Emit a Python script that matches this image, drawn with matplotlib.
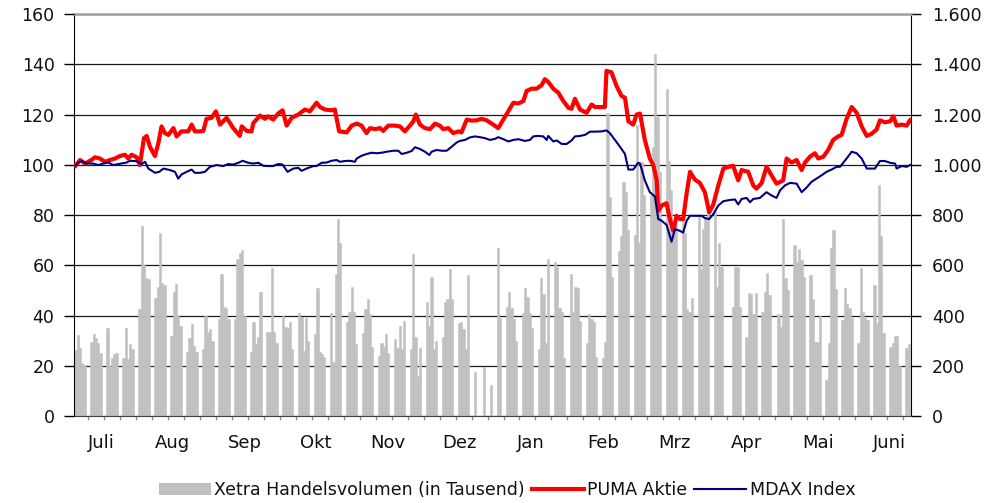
import numpy as np
import pandas as pd
import matplotlib
matplotlib.use("Agg")
import matplotlib.pyplot as plt
from matplotlib.patches import Patch
from matplotlib.lines import Line2D

# Handelstage Juli 2019 - Juni 2020 (Xetra)
start = pd.Timestamp("2019-07-01")
holidays = ["2019-12-24", "2019-12-25", "2019-12-26", "2019-12-31",
            "2020-01-01", "2020-04-10", "2020-04-13", "2020-05-01"]
months = ["Juli", "Aug", "Sep", "Okt", "Nov", "Dez", "Jan", "Feb", "Mrz", "Apr", "Mai", "Juni"]

# Xetra Handelsvolumen (in Tausend), eine Zeile pro Woche
volume = [
    262, 322, 270, 209, 203,
    295, 325, 310, 290, 250,
    350, 200, 230, 245, 250,
    230, 350, 225, 285, 265,
    425, 755, 600, 550, 545,
    470, 515, 730, 530, 520,
    320, 495, 525, 400, 360,
    255, 310, 365, 280, 255,
    265, 400, 335, 345, 300,
    385, 565, 435, 430, 385,
    385, 625, 650, 660, 400,
    255, 375, 285, 315, 495,
    335, 335, 590, 335, 290,
    400, 355, 350, 375, 265,
    410, 395, 260, 390, 300,
    325, 510, 255, 245, 235,
    410, 215, 565, 785, 690,
    375, 415, 515, 415, 285,
    330, 425, 465, 405, 275,
    240, 290, 275, 325, 250,
    305, 270, 360, 265, 380,
    265, 645, 315, 160, 270,
    455, 360, 555, 265, 300,
    315, 455, 465, 585, 465,
    370, 375, 345, 265, 560,
    175, 195,
    125, 670, 390,
    435, 495, 430, 385, 300,
    410, 510, 475, 410, 350,
    265, 550, 485, 290, 625,
    615, 595, 430, 415, 230,
    565, 415, 515, 510, 380,
    290, 405, 385, 375, 235,
    230, 295, 1205, 870, 555,
    655, 715, 930, 890, 740,
    720, 1160, 690, 1010, 880,
    880, 1070, 1440, 1190, 970,
    1300, 1015, 900, 770, 760,
    825, 730, 425, 415, 470,
    795, 585, 745, 790, 820,
    815, 515, 690, 595,
    435, 595, 595, 435,
    315, 490, 485, 405, 490,
    415, 495, 570, 480,
    405, 355, 785, 550, 500,
    680, 613, 666, 620, 555,
    560, 465, 295, 295, 400,
    145, 290, 668, 742, 505,
    382, 511, 445, 428, 390,
    292, 588, 412, 390, 384,
    522, 372, 920, 715, 330,
    276, 290, 320, 320, 200,
    272, 286,
]

# PUMA Aktie (indexiert), (Kalendertag seit 1.7.2019, Wert)
puma_pts = [
    (0, 99.6), (2.0, 101.9), (4.2, 100.5), (7.1, 102.0), (8.5, 103.0), (10.7, 102.5),
    (12.9, 101.2), (15.1, 101.9), (17.3, 102.5), (19.5, 103.5), (21.7, 104.0), (23.1, 102.5),
    (24.6, 104.0), (26.8, 103.0), (28.2, 99.9), (30.0, 110.6), (31.2, 111.5), (32.6, 107.2),
    (34.8, 103.5), (36.3, 108.6), (37.7, 115.3), (39.2, 112.6), (40.7, 111.9), (42.9, 114.6),
    (44.3, 111.3), (46.4, 113.3), (49.4, 113.3), (50.9, 116.0), (52.3, 113.3), (54.5, 113.3),
    (56.0, 113.5), (57.4, 118.3), (59.6, 118.7), (61.5, 121.3), (63.3, 116.0), (66.2, 118.7),
    (69.1, 114.6), (72.0, 111.5), (72.8, 115.3), (75.0, 113.5), (77.1, 113.3), (77.9, 116.6),
    (80.8, 119.6), (83.0, 118.3), (84.4, 119.3), (86.6, 118.0), (88.8, 120.4), (90.7, 121.7),
    (92.5, 115.6), (94.7, 118.7), (97.6, 120.0), (100.5, 122.0), (102.7, 121.3), (105.6, 124.7),
    (107.1, 123.0), (109.3, 122.0), (112.2, 121.7), (113.6, 122.0), (115.5, 113.3),
    (118.8, 112.9), (121.0, 115.6), (123.2, 116.4), (125.3, 115.6), (127.5, 112.6),
    (129.0, 114.6), (131.2, 114.2), (133.4, 114.6), (134.8, 113.5), (137.0, 115.6),
    (139.9, 115.6), (142.1, 115.3), (144.3, 113.3), (146.5, 115.6), (148.0, 117.3),
    (149.1, 120.0), (150.9, 116.0), (153.1, 114.6), (155.3, 114.2), (157.5, 116.4),
    (159.6, 115.6), (161.1, 114.2), (163.3, 114.6), (165.5, 112.6), (167.7, 113.3),
    (169.1, 112.9), (171.4, 118.0), (173.5, 117.6), (175.7, 117.7), (177.9, 118.3),
    (180.1, 117.7), (183.0, 116.0), (185.2, 114.6), (187.4, 118.0), (189.6, 121.3),
    (191.8, 124.7), (194.0, 124.4), (196.2, 125.4), (197.6, 129.4), (199.8, 130.3),
    (202.0, 130.3), (204.2, 131.7), (205.6, 134.1), (207.1, 133.0), (209.3, 130.3),
    (211.5, 128.7), (213.7, 125.4), (215.9, 122.7), (217.3, 122.3), (218.8, 126.3),
    (221.0, 122.0), (223.9, 120.7), (226.1, 124.0), (227.5, 123.0), (229.7, 123.0),
    (231.9, 123.0), (232.6, 137.4), (234.8, 136.8), (237.0, 131.4), (239.2, 127.4),
    (240.7, 126.7), (242.2, 117.3), (244.3, 116.0), (245.8, 120.0), (247.3, 120.4),
    (249.4, 109.9), (251.6, 102.5), (253.1, 99.9), (254.6, 93.8), (255.3, 81.7),
    (256.8, 83.8), (258.9, 84.7), (260.4, 78.4), (261.9, 73.7), (263.3, 79.7),
    (264.8, 78.4), (266.2, 78.4), (267.7, 88.5), (269.2, 97.2), (271.3, 94.1),
    (273.5, 92.8), (275.7, 89.1), (277.6, 81.1), (279.4, 84.2), (281.6, 91.8),
    (283.8, 98.5), (286.0, 99.2), (288.1, 99.6), (290.3, 93.8), (291.8, 97.9),
    (294.7, 97.2), (296.9, 91.8), (298.3, 90.5), (300.6, 92.8), (302.7, 99.2),
    (304.9, 95.8), (307.1, 92.5), (310.0, 93.8), (311.5, 102.5), (313.7, 100.9),
    (315.9, 101.9), (318.1, 97.9), (319.5, 100.8), (321.7, 103.2), (323.9, 104.6),
    (325.4, 102.5), (327.6, 103.2), (329.7, 105.9), (331.9, 109.9), (334.1, 111.3),
    (335.6, 111.9), (337.8, 118.3), (340.0, 123.0), (342.2, 120.7), (344.4, 115.3),
    (346.6, 111.5), (348.7, 112.3), (350.9, 114.0), (352.4, 117.7), (354.6, 116.9),
    (356.8, 117.3), (358.3, 119.3), (359.7, 115.6), (361.9, 116.0), (364.1, 115.6),
    (365.6, 117.7),
]

# MDAX Index (indexiert)
mdax_pts = [
    (0, 99.6), (1.2, 100.9), (2.7, 101.5), (4.9, 100.5), (7.8, 100.5), (10.0, 99.9),
    (12.2, 100.5), (14.4, 100.9), (16.6, 99.9), (18.8, 100.3), (22.4, 100.9), (23.9, 101.6),
    (26.1, 101.5), (27.5, 101.2), (29.0, 100.3), (30.5, 101.2), (31.9, 98.5), (34.9, 96.8),
    (36.7, 97.2), (38.5, 98.5), (41.4, 97.9), (43.6, 97.2), (45.0, 94.5), (46.5, 96.2),
    (48.7, 97.2), (50.9, 98.1), (52.3, 96.8), (54.5, 96.8), (56.7, 97.2), (58.9, 99.2),
    (61.8, 99.9), (64.7, 99.5), (66.9, 100.3), (69.1, 100.1), (71.4, 100.8), (73.2, 101.6),
    (75.7, 100.8), (77.9, 100.5), (80.1, 100.8), (82.3, 99.6), (84.5, 99.5), (86.6, 99.5),
    (88.8, 100.3), (90.7, 100.1), (92.9, 97.2), (95.4, 98.5), (97.6, 98.8), (99.0, 97.6),
    (101.2, 98.5), (104.2, 99.5), (105.6, 99.5), (107.8, 100.8), (110.0, 100.9), (112.2, 101.6),
    (114.4, 101.9), (115.9, 101.2), (118.0, 101.5), (120.2, 101.6), (122.4, 101.2),
    (123.2, 102.5), (125.3, 103.6), (127.5, 104.3), (129.7, 104.8), (131.9, 104.6),
    (134.1, 104.8), (136.3, 105.2), (139.2, 105.6), (141.4, 105.6), (142.9, 104.3),
    (145.1, 104.8), (147.3, 105.5), (148.7, 107.0), (150.9, 106.3), (153.1, 105.2),
    (155.0, 103.9), (156.0, 105.2), (158.2, 105.9), (160.4, 105.6), (162.6, 105.6),
    (164.8, 107.2), (167.0, 108.9), (168.4, 109.5), (170.6, 109.9), (172.8, 110.9),
    (175.0, 111.3), (177.2, 111.0), (179.4, 110.6), (181.5, 109.9), (183.7, 110.3),
    (185.2, 111.0), (187.4, 110.2), (189.6, 109.3), (191.8, 109.9), (194.0, 110.2),
    (196.9, 109.5), (199.1, 109.9), (200.5, 111.3), (202.7, 111.5), (204.9, 111.3),
    (206.4, 109.9), (207.1, 111.5), (209.3, 109.3), (210.8, 109.7), (213.0, 108.3),
    (215.2, 108.3), (217.3, 109.7), (218.8, 111.3), (221.0, 111.5), (223.2, 111.9),
    (225.4, 113.2), (227.5, 113.2), (230.5, 113.3), (232.6, 113.7), (234.1, 112.6),
    (236.3, 109.9), (238.5, 107.2), (240.7, 104.3), (242.2, 98.1), (244.3, 98.1),
    (246.5, 100.8), (247.3, 100.5), (249.4, 93.8), (251.6, 89.1), (253.8, 87.4),
    (255.3, 78.4), (256.8, 77.7), (258.9, 76.1), (261.1, 69.4), (262.6, 74.4),
    (264.8, 73.7), (266.2, 73.0), (267.7, 77.7), (269.2, 79.7), (271.3, 79.7),
    (274.3, 79.7), (275.7, 78.8), (277.6, 78.4), (279.4, 80.4), (281.6, 83.8),
    (283.8, 85.5), (286.7, 86.0), (288.9, 86.2), (290.3, 84.2), (291.8, 86.4),
    (294.0, 86.8), (295.5, 85.1), (296.9, 86.4), (299.8, 86.8), (302.7, 89.1),
    (304.9, 87.8), (307.1, 86.8), (308.6, 89.8), (310.8, 91.8), (313.0, 92.8),
    (315.9, 92.5), (318.1, 89.1), (320.2, 90.9), (322.4, 93.2), (324.6, 94.5),
    (326.8, 95.8), (329.0, 97.2), (331.2, 98.1), (333.4, 99.2), (334.9, 99.2),
    (337.8, 102.5), (340.0, 105.2), (342.2, 104.6), (344.4, 102.5), (346.6, 98.5),
    (348.7, 98.5), (350.2, 98.5), (352.4, 101.5), (354.6, 101.5), (356.8, 100.8),
    (359.0, 100.5), (359.7, 98.5), (361.9, 99.5), (364.1, 99.2), (365.6, 99.9),
]

trade_days = pd.bdate_range("2019-07-01", "2020-06-30")
trade_days = trade_days[~trade_days.isin(pd.to_datetime(holidays))]
vol_x = (trade_days - start).days.values

puma_x, puma_y = zip(*puma_pts)
mdax_x, mdax_y = zip(*mdax_pts)

plt.rcParams['font.family'] = 'DejaVu Sans'
txt = '#111111'

fig = plt.figure(figsize=(10, 5.03), dpi=100)
ax = fig.add_axes([0.074, 0.173, 0.837, 0.799])
axl = ax.twinx()

# Volumen (rechte Achse)
ax.bar(vol_x, volume, width=1.0, color='#c0c0c0', edgecolor='#c0c0c0',
       linewidth=0.4, zorder=2)
ax.set_xlim(-0.65, 366)
ax.set_ylim(0, 1600)
ax.yaxis.tick_right()
ax.set_yticks(range(0, 1601, 200))
ax.set_yticklabels([f"{v:,}".replace(",", ".") for v in range(0, 1601, 200)])
ax.tick_params(axis='y', which='major', direction='out', length=7, width=1,
               pad=8, labelsize=12.5, labelcolor=txt, right=True, left=False)
ax.grid(axis='y', color='#1a1a1a', linewidth=0.9)
ax.set_axisbelow(True)

# Monatsbeschriftung + Wochenstriche
label_start, label_step = 11.2, 31.4
ax.set_xticks([label_start + i * label_step for i in range(len(months))])
ax.set_xticklabels(months)
ax.set_xticks(np.arange(5.5, 366, 7), minor=True)
ax.tick_params(axis='x', which='major', length=0, pad=13, labelsize=13, labelcolor=txt)
ax.tick_params(axis='x', which='minor', length=3, color='#909090', width=1)

# Kurse (linke Achse)
axl.plot(puma_x, puma_y, color='#ff0000', linewidth=3, solid_joinstyle='round', zorder=3)
axl.plot(mdax_x, mdax_y, color='#000080', linewidth=1.5, solid_joinstyle='round', zorder=4)
axl.set_ylim(0, 160)
axl.set_yticks(range(0, 161, 20))
axl.yaxis.tick_left()
axl.tick_params(axis='y', direction='out', length=7, width=1, pad=7,
                labelsize=12.5, labelcolor=txt, left=True, right=False)

for a in (ax, axl):
    for s in a.spines.values():
        s.set_visible(False)
for side in ('left', 'right', 'bottom', 'top'):
    ax.spines[side].set_visible(True)
ax.spines['left'].set_color('#000000')
ax.spines['right'].set_color('#000000')
ax.spines['bottom'].set_color('#404040')
ax.spines['top'].set_color('#a0a0a0')
ax.spines['top'].set_linewidth(1.8)

handles = [
    Patch(facecolor='#c0c0c0', edgecolor='none', label='Xetra Handelsvolumen (in Tausend)'),
    Line2D([], [], color='#ff0000', linewidth=3, label='PUMA Aktie'),
    Line2D([], [], color='#000080', linewidth=1.5, label='MDAX Index'),
]
fig.legend(handles=handles, loc='center', bbox_to_anchor=(0.507, 0.026), ncol=3,
           frameon=False, fontsize=12.5, handlelength=3.0, handletextpad=0.2,
           columnspacing=0.4, labelcolor=txt)

fig.savefig("out.png", dpi=100)
